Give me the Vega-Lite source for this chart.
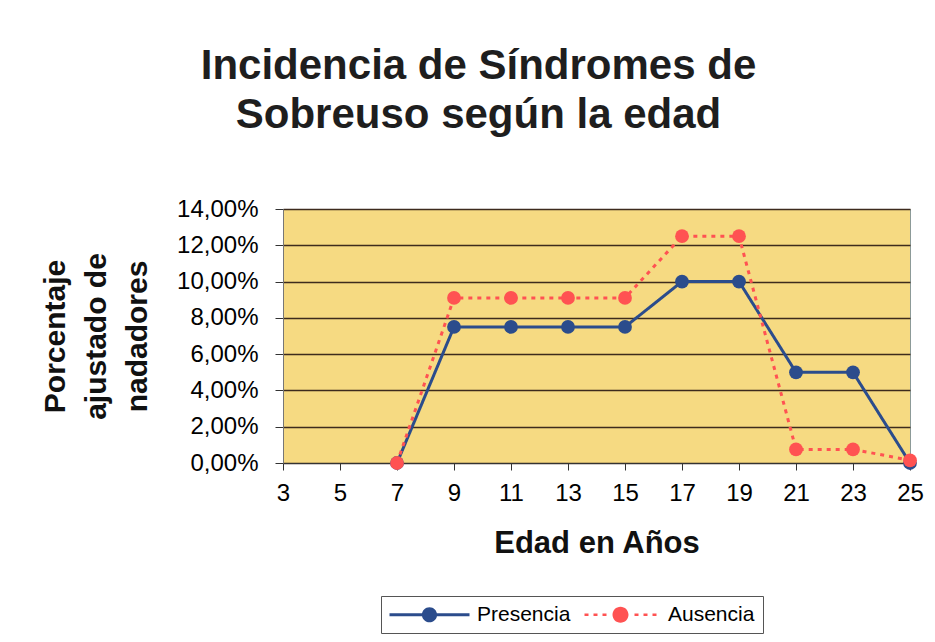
{
  "$schema": "https://vega.github.io/schema/vega-lite/v6.json",
  "autosize": "none",
  "width": 627,
  "height": 254,
  "padding": {"left": 283, "top": 209, "right": 25, "bottom": 179},
  "background": "#ffffff",
  "title": {
    "text": ["Incidencia de Síndromes de", "Sobreuso según la edad"],
    "font": "Liberation Sans",
    "fontSize": 42,
    "fontWeight": "bold",
    "lineHeight": 49,
    "color": "#1e1e1e",
    "anchor": "middle",
    "frame": "group",
    "dx": -118,
    "offset": 60
  },
  "config": {
    "view": {"fill": "#f6da82", "stroke": "#8c9a98", "strokeWidth": 1},
    "axis": {"labelFont": "Liberation Sans", "titleFont": "Liberation Sans", "labelColor": "#000000", "titleColor": "#111111"}
  },
  "data": {
    "values": [
      {"edad": 7, "serie": "Presencia", "valor": 0},
      {"edad": 9, "serie": "Presencia", "valor": 0.075},
      {"edad": 11, "serie": "Presencia", "valor": 0.075},
      {"edad": 13, "serie": "Presencia", "valor": 0.075},
      {"edad": 15, "serie": "Presencia", "valor": 0.075},
      {"edad": 17, "serie": "Presencia", "valor": 0.1},
      {"edad": 19, "serie": "Presencia", "valor": 0.1},
      {"edad": 21, "serie": "Presencia", "valor": 0.05},
      {"edad": 23, "serie": "Presencia", "valor": 0.05},
      {"edad": 25, "serie": "Presencia", "valor": 0},
      {"edad": 7, "serie": "Ausencia", "valor": 0},
      {"edad": 9, "serie": "Ausencia", "valor": 0.091},
      {"edad": 11, "serie": "Ausencia", "valor": 0.091},
      {"edad": 13, "serie": "Ausencia", "valor": 0.091},
      {"edad": 15, "serie": "Ausencia", "valor": 0.091},
      {"edad": 17, "serie": "Ausencia", "valor": 0.125},
      {"edad": 19, "serie": "Ausencia", "valor": 0.125},
      {"edad": 21, "serie": "Ausencia", "valor": 0.0075},
      {"edad": 23, "serie": "Ausencia", "valor": 0.0075},
      {"edad": 25, "serie": "Ausencia", "valor": 0.0015}
    ]
  },
  "encoding": {
    "x": {
      "field": "edad",
      "type": "quantitative",
      "scale": {"domain": [3, 25], "nice": false, "zero": false},
      "axis": {
        "values": [3, 5, 7, 9, 11, 13, 15, 17, 19, 21, 23, 25],
        "grid": false,
        "tickSize": 7,
        "tickColor": "#333333",
        "domainColor": "#333333",
        "labelFontSize": 24,
        "labelPadding": 11,
        "labelFlush": false,
        "labelOverlap": false,
        "title": "Edad en Años",
        "titleFontSize": 31,
        "titleFontWeight": "bold",
        "titlePadding": 23
      }
    },
    "y": {
      "field": "valor",
      "type": "quantitative",
      "scale": {"domain": [0, 0.14], "nice": false},
      "axis": {
        "values": [0, 0.02, 0.04, 0.06, 0.08, 0.1, 0.12, 0.14],
        "labelExpr": "replace(format(datum.value, '.2%'), '.', ',')",
        "grid": true,
        "gridColor": "#3d2b1d",
        "gridWidth": 1.3,
        "tickSize": 8,
        "tickColor": "#333333",
        "domainColor": "#777777",
        "labelFontSize": 24,
        "labelPadding": 17,
        "labelFlush": false,
        "labelOverlap": false,
        "title": ["Porcentaje", "ajustado de", "nadadores"],
        "titleFontSize": 30,
        "titleFontWeight": "bold",
        "titleLineHeight": 41,
        "titlePadding": 24
      }
    },
    "color": {
      "field": "serie",
      "type": "nominal",
      "scale": {"domain": ["Presencia", "Ausencia"], "range": ["#2b4c8c", "#ff5252"]},
      "legend": {
        "title": null,
        "orient": "none",
        "legendX": 98,
        "legendY": 387,
        "direction": "horizontal",
        "columns": 2,
        "symbolType": "circle",
        "symbolSize": 400,
        "symbolOffset": 30,
        "symbolStrokeWidth": 0,
        "labelFont": "Liberation Sans",
        "labelFontSize": 21,
        "labelColor": "#000000",
        "labelOffset": 37,
        "labelLimit": 0,
        "columnPadding": 9,
        "padding": 8,
        "strokeColor": "#555555",
        "fillColor": "#ffffff",
        "encode": {
          "symbols": {
            "update": {
              "shape": {"signal": "datum.value === 'Ausencia' ? 'M-3.6,-0.125H-3.2V0.125H-3.6ZM-2.7,-0.125H-2.3V0.125H-2.7ZM-1.8,-0.125H-1.4V0.125H-1.8ZM1.4,-0.125H1.8V0.125H1.4ZM2.3,-0.125H2.7V0.125H2.3ZM3.2,-0.125H3.6V0.125H3.2ZM-0.8,0A0.8,0.8,0,1,1,0.8,0A0.8,0.8,0,1,1,-0.8,0Z' : 'M-4,-0.15H4V0.15H-4ZM-0.76,0A0.76,0.76,0,1,1,0.76,0A0.76,0.76,0,1,1,-0.76,0Z'"},
              "fill": {"scale": "color", "field": "value"},
              "strokeWidth": {"value": 0},
              "strokeDash": {"value": [1, 0]},
              "opacity": {"value": 1}
            }
          }
        }
      }
    }
  },
  "layer": [
    {
      "mark": {"type": "line", "strokeWidth": 3},
      "encoding": {
        "strokeDash": {
          "field": "serie",
          "type": "nominal",
          "scale": {"domain": ["Presencia", "Ausencia"], "range": [[1, 0], [4, 5]]},
          "legend": null
        }
      }
    },
    {
      "mark": {"type": "point", "filled": true, "opacity": 1, "size": 190, "shape": "circle"}
    }
  ]
}
